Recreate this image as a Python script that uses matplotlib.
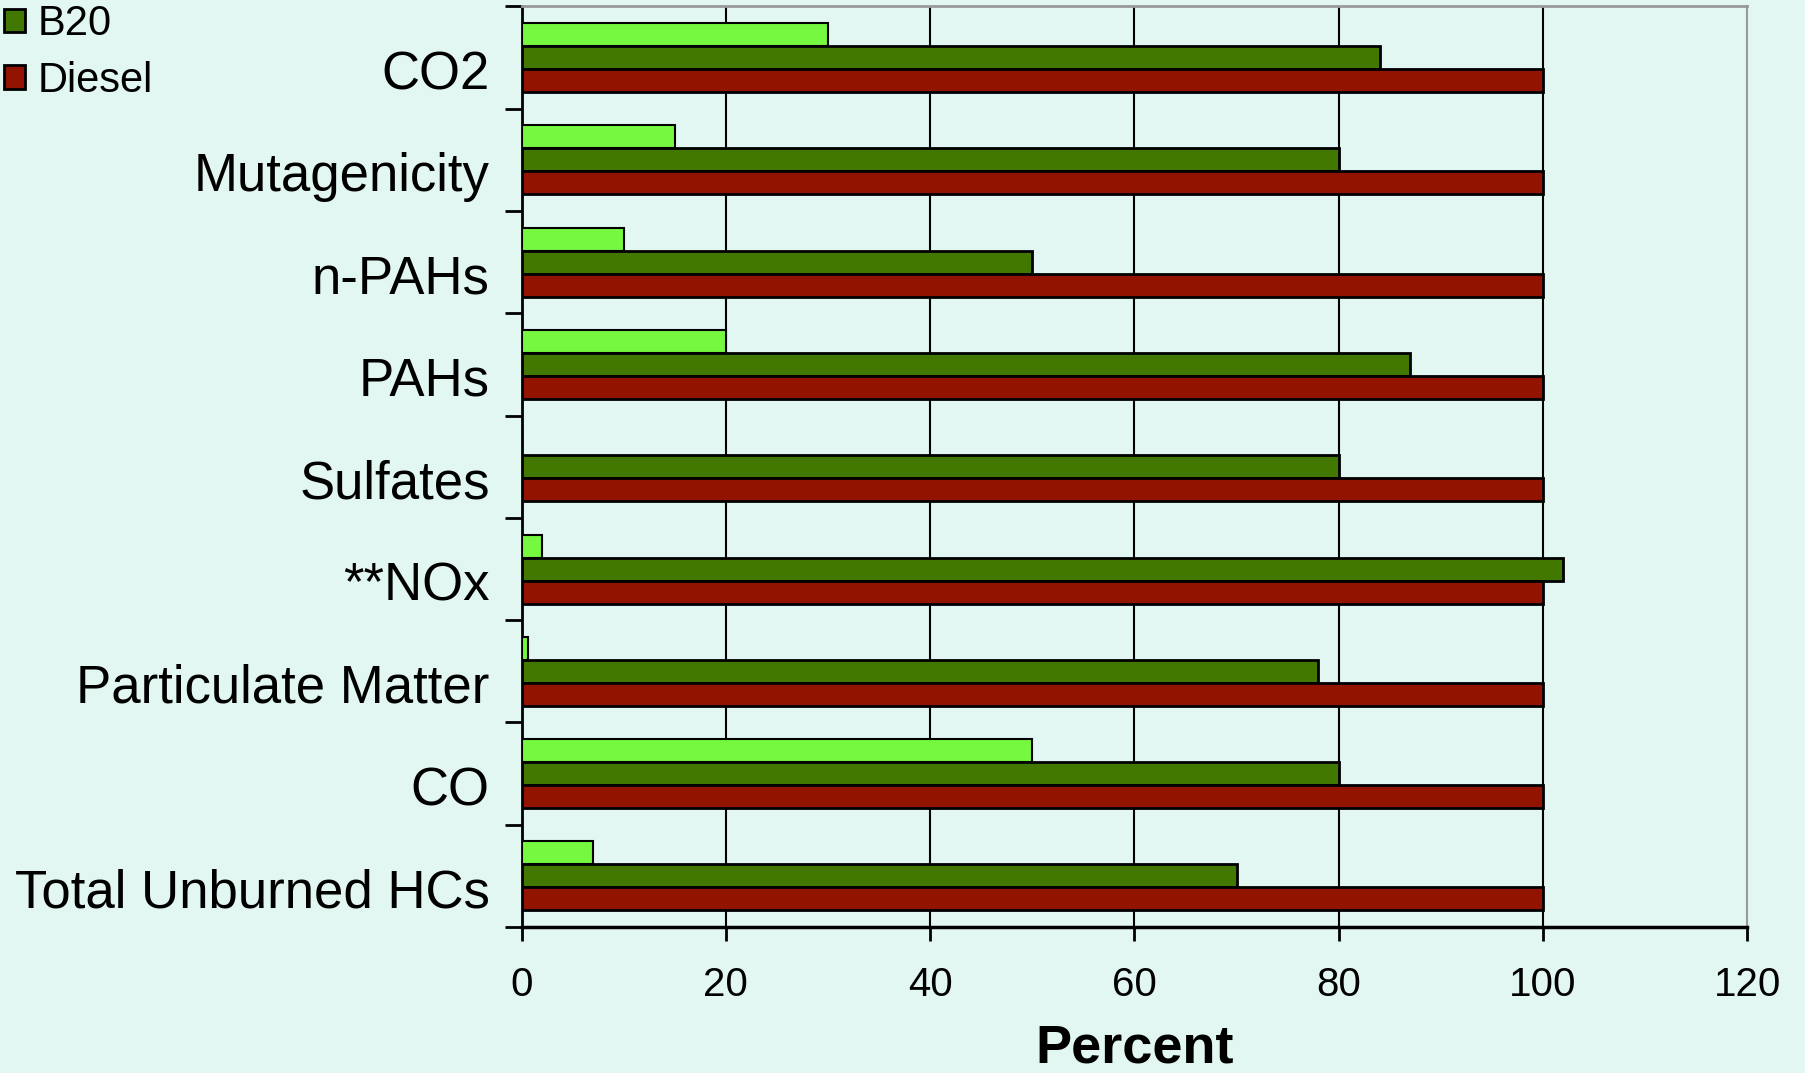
import numpy as np
import matplotlib
matplotlib.use('Agg')
import matplotlib.pyplot as plt
import matplotlib.transforms as mtransforms
from matplotlib.patches import Patch

plt.rcParams['font.family'] = ['Liberation Sans', 'DejaVu Sans']

# categories from top to bottom as they appear in the chart
categorias = ['CO2', 'Mutagenicity', 'n-PAHs', 'PAHs', 'Sulfates', '**NOx',
              'Particulate Matter', 'CO', 'Total Unburned HCs']
b100 = [30, 15, 10, 20, 0, 2, 0.6, 50, 7]
b20 = [84, 80, 50, 87, 80, 102, 78, 80, 70]
diesel = [100, 100, 100, 100, 100, 100, 100, 100, 100]

fondo = '#E2F7F2'
c_b100 = '#76F840'
c_b20 = '#427800'
c_diesel = '#921400'

fig = plt.figure(figsize=(18.05, 10.73), dpi=100, facecolor=fondo)
ax = fig.add_axes([0.289, 0.136, 0.679, 0.858])
ax.set_facecolor(fondo)

n = len(categorias)
y = np.arange(n)[::-1]  # CO2 on top
h = 0.225

ax.barh(y + h, b100, h, color=c_b100, edgecolor='black', linewidth=1.5, zorder=3)
ax.barh(y, b20, h, color=c_b20, edgecolor='black', linewidth=2, zorder=3)
ax.barh(y - h, diesel, h, color=c_diesel, edgecolor='black', linewidth=2, zorder=3)

ax.set_xlim(0, 120)
ax.set_ylim(-0.5, n - 0.5)
ax.set_xticks(np.arange(0, 121, 20))
ax.tick_params(axis='x', labelsize=29, length=10, width=2, pad=18, direction='out')

ax.set_yticks(y)
ax.set_yticklabels(categorias)
ax.tick_params(axis='y', which='major', length=0, labelsize=38, pad=23)
ax.set_yticks(np.arange(-0.5, n, 1), minor=True)
ax.tick_params(axis='y', which='minor', length=12, width=2, direction='out')

# the labels sit a little below the group centre in the original
desplazamiento = mtransforms.ScaledTranslation(0, -0.12, fig.dpi_scale_trans)
for lbl in ax.get_yticklabels():
    lbl.set_transform(lbl.get_transform() + desplazamiento)

# vertical gridlines
for v in [20, 40, 60, 80, 100]:
    ax.axvline(v, color='black', linewidth=1.5, zorder=1)

ax.spines['left'].set_linewidth(2)
ax.spines['bottom'].set_linewidth(2.5)
ax.spines['top'].set_color('#999999')
ax.spines['right'].set_color('#999999')
ax.spines['top'].set_linewidth(2)
ax.spines['right'].set_linewidth(1.5)

ax.set_xlabel('Percent', fontsize=39, fontweight='bold', labelpad=14)

handles = [Patch(facecolor=c_b20, edgecolor='black', linewidth=2),
           Patch(facecolor=c_diesel, edgecolor='black', linewidth=2)]
fig.legend(handles, ['B20', 'Diesel'], loc='upper left',
           bbox_to_anchor=(0.0, 1.0), frameon=False, fontsize=30,
           handlelength=0.5, handleheight=0.5, handletextpad=0.3,
           labelspacing=0.4, borderaxespad=0.0, borderpad=0.1)

fig.savefig('out.png', dpi=100, facecolor=fondo)
